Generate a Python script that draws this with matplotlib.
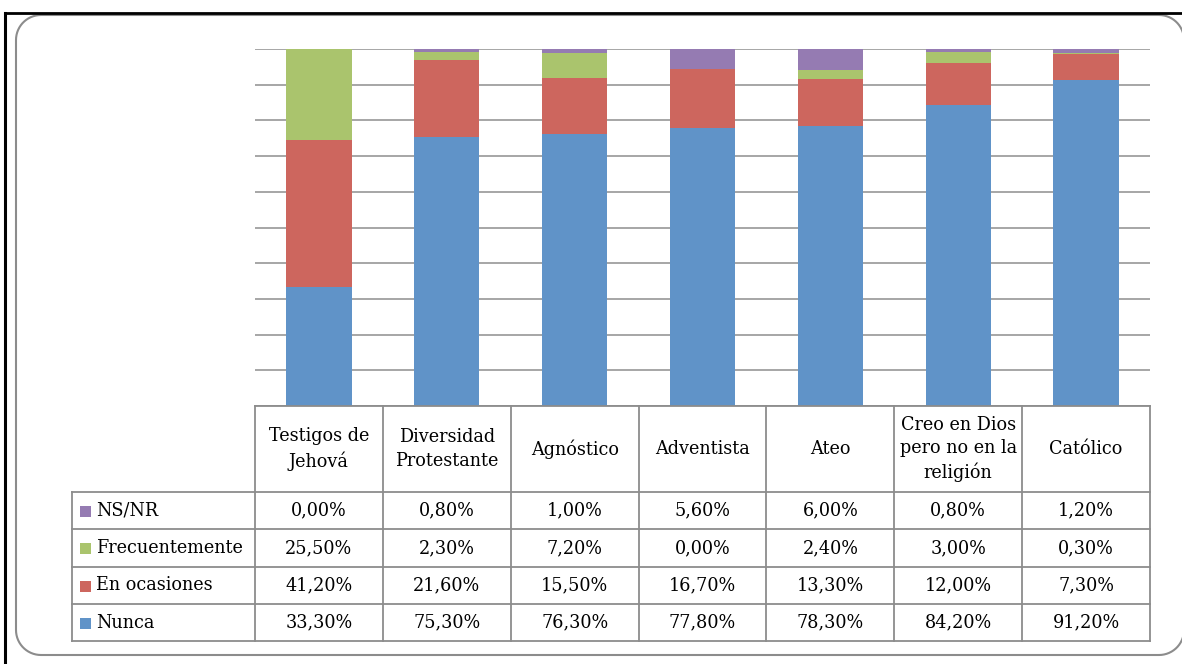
import matplotlib
matplotlib.use("Agg")
import matplotlib.pyplot as plt
from matplotlib.patches import Rectangle, PathPatch
from matplotlib.path import Path
from matplotlib.lines import Line2D
from matplotlib.transforms import IdentityTransform
import numpy as np

categories = ["Testigos de\nJehová", "Diversidad\nProtestante", "Agnóstico", "Adventista",
              "Ateo", "Creo en Dios\npero no en la\nreligión", "Católico"]
nunca = [33.3, 75.3, 76.3, 77.8, 78.3, 84.2, 91.2]
en_ocasiones = [41.2, 21.6, 15.5, 16.7, 13.3, 12.0, 7.3]
frecuentemente = [25.5, 2.3, 7.2, 0.0, 2.4, 3.0, 0.3]
ns_nr = [0.0, 0.8, 1.0, 5.6, 6.0, 0.8, 1.2]

series_names = ["Nunca", "En ocasiones", "Frecuentemente", "NS/NR"]
series_vals = [nunca, en_ocasiones, frecuentemente, ns_nr]
colors = ["#6093C8", "#CD665E", "#AAC46D", "#957BB2"]

plt.rcParams['font.family'] = ['DejaVu Serif']
W, H = 1182, 664
fig = plt.figure(figsize=(W / 100, H / 100), dpi=100)

# outer black border (top & left)
fig.add_artist(Line2D([5, W], [H - 13, H - 13], transform=IdentityTransform(), color="black", lw=2))
fig.add_artist(Line2D([5, 5], [0, H - 13], transform=IdentityTransform(), color="black", lw=2.2))

# rounded gray frame as a sampled polyline (display pixels)
def rounded_rect(xl, yb, xr, yt, r, k=16):
    pts = []
    corners = [(xr - r, yt - r, 0, 90), (xl + r, yt - r, 90, 180),
               (xl + r, yb + r, 180, 270), (xr - r, yb + r, 270, 360)]
    for cx, cy, a0, a1 in corners:
        t = np.radians(np.linspace(a0, a1, k))
        pts += list(zip(cx + r * np.cos(t), cy + r * np.sin(t)))
    pts.append(pts[0])
    return Path(pts)

frame = PathPatch(rounded_rect(16, H - 655, 1184, H - 15, 25), transform=IdentityTransform(),
                  fill=False, edgecolor="#8C8C8C", lw=1.5)
fig.add_artist(frame)

x0, x1 = 255, 1150
ytop, ybot = 49, 406
ax = fig.add_axes([x0 / W, 1 - ybot / H, (x1 - x0) / W, (ybot - ytop) / H])
n = len(categories)
x = np.arange(n)
bottom = np.zeros(n)
for name, vals, c in zip(series_names, series_vals, colors):
    ax.bar(x, vals, width=0.51, bottom=bottom, color=c, zorder=3)
    bottom += np.array(vals)
ax.set_xlim(-0.5, n - 0.5)
ax.set_ylim(0, 100)
ax.set_yticks(np.arange(0, 101, 10))
ax.yaxis.grid(True, color="#A6A6A6", lw=1.4, zorder=0)
ax.tick_params(left=False, bottom=False, labelleft=False, labelbottom=False)
for s in ax.spines.values():
    s.set_visible(False)

# data table
lc = "#8C8C8C"
def hline(y, xa, xb):
    fig.add_artist(Line2D([xa, xb], [H - y, H - y], transform=IdentityTransform(), color=lc, lw=1.3))
def vline(xv, ya, yb):
    fig.add_artist(Line2D([xv, xv], [H - ya, H - yb], transform=IdentityTransform(), color=lc, lw=1.3))

lab_x0 = 72
row_edges = [406, 492, 529, 567, 604, 641]
hline(406, x0, x1)
for y in row_edges[1:]:
    hline(y, lab_x0, x1)
col_w = (x1 - x0) / n
for i in range(n + 1):
    vline(x0 + i * col_w, 406, row_edges[-1])
vline(lab_x0, row_edges[1], row_edges[-1])

fs = 12.7
hy = (row_edges[0] + row_edges[1]) / 2
for i, cat in enumerate(categories):
    cx = x0 + (i + 0.5) * col_w
    fig.text(cx / W, 1 - hy / H, cat, ha="center", va="center", fontsize=fs,
             linespacing=1.36, color="black")

table_order = [3, 2, 1, 0]  # NS/NR, Frecuentemente, En ocasiones, Nunca
for r, si in enumerate(table_order):
    ya, yb = row_edges[r + 1], row_edges[r + 2]
    cy = (ya + yb) / 2
    fig.add_artist(Rectangle((80, H - cy - 6), 11, 11, transform=IdentityTransform(),
                             color=colors[si], lw=0))
    fig.text(96 / W, 1 - cy / H, series_names[si], ha="left", va="center", fontsize=fs)
    for i in range(n):
        cx = x0 + (i + 0.5) * col_w
        txt = f"{series_vals[si][i]:.2f}%".replace(".", ",")
        fig.text(cx / W, 1 - cy / H, txt, ha="center", va="center", fontsize=fs)

fig.savefig("out.png", dpi=100)
